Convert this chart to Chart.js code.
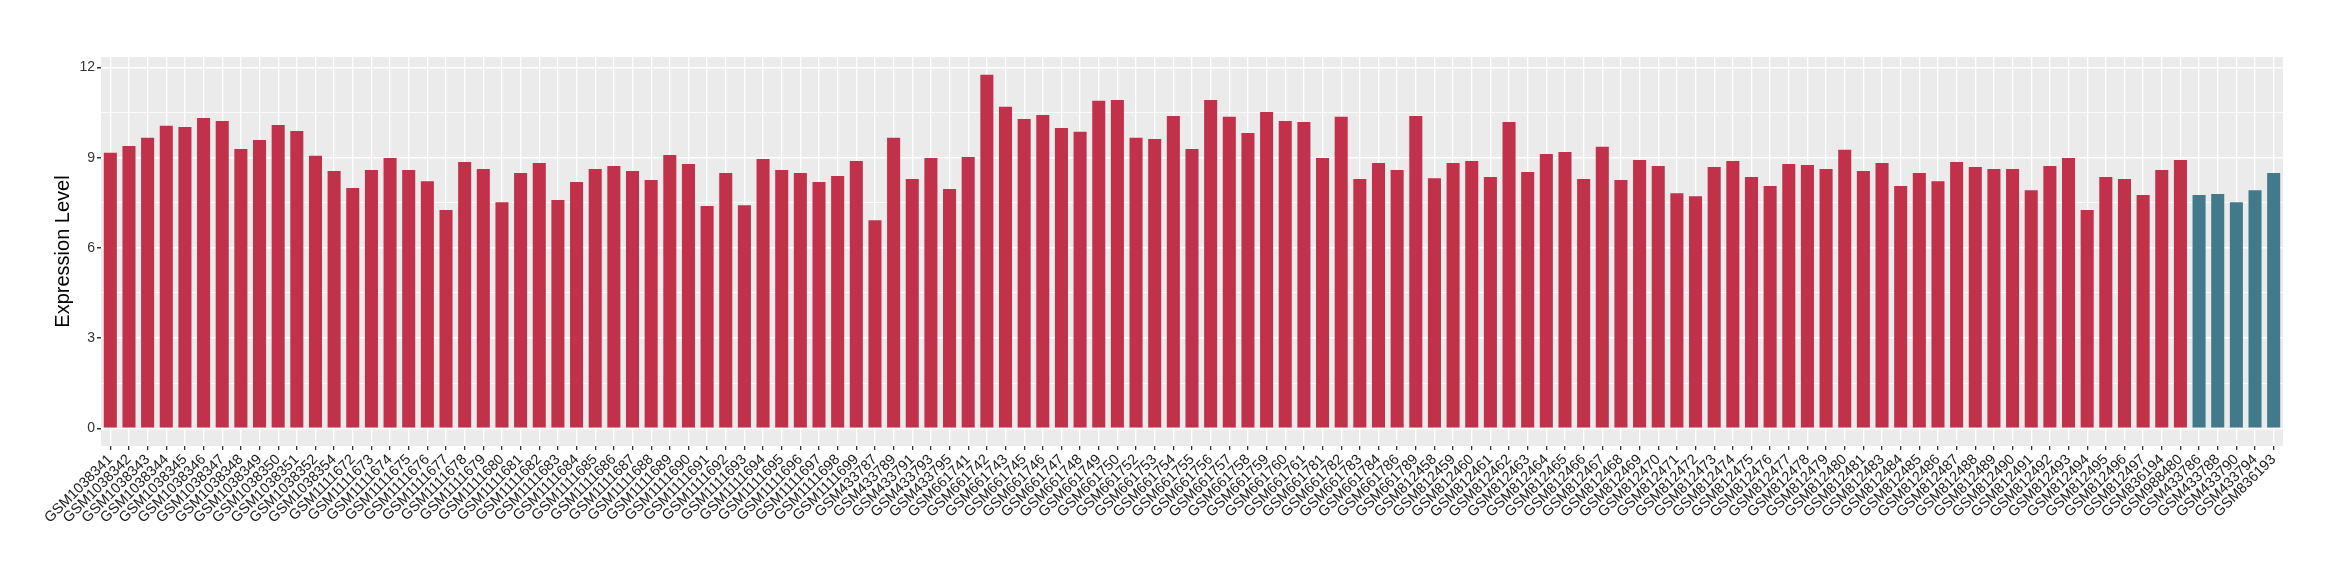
<!DOCTYPE html>
<html>
<head>
<meta charset="utf-8">
<script src="https://cdn.jsdelivr.net/npm/chart.js@4/dist/chart.umd.min.js"></script>
<style>
  html, body { margin: 0; padding: 0; background: #ffffff; }
  #wrap { width: 2340px; height: 580px; }
</style>
</head>
<body>
<div id="wrap"><canvas id="expr" width="2340" height="580"></canvas></div>
<script>
// sample ids, in plotting order
var samples = [
    'GSM1038341', 'GSM1038342', 'GSM1038343', 'GSM1038344', 'GSM1038345', 'GSM1038346', 'GSM1038347',
    'GSM1038348', 'GSM1038349', 'GSM1038350', 'GSM1038351', 'GSM1038352', 'GSM1038354',
    'GSM1111672', 'GSM1111673', 'GSM1111674', 'GSM1111675', 'GSM1111676', 'GSM1111677', 'GSM1111678',
    'GSM1111679', 'GSM1111680', 'GSM1111681', 'GSM1111682', 'GSM1111683', 'GSM1111684', 'GSM1111685',
    'GSM1111686', 'GSM1111687', 'GSM1111688', 'GSM1111689', 'GSM1111690', 'GSM1111691', 'GSM1111692',
    'GSM1111693', 'GSM1111694', 'GSM1111695', 'GSM1111696', 'GSM1111697', 'GSM1111698', 'GSM1111699',
    'GSM433787', 'GSM433789', 'GSM433791', 'GSM433793', 'GSM433795',
    'GSM661741', 'GSM661742', 'GSM661743', 'GSM661745', 'GSM661746', 'GSM661747', 'GSM661748',
    'GSM661749', 'GSM661750', 'GSM661752', 'GSM661753', 'GSM661754', 'GSM661755', 'GSM661756',
    'GSM661757', 'GSM661758', 'GSM661759', 'GSM661760', 'GSM661761', 'GSM661781', 'GSM661782',
    'GSM661783', 'GSM661784', 'GSM661786', 'GSM661789',
    'GSM812458', 'GSM812459', 'GSM812460', 'GSM812461', 'GSM812462', 'GSM812463', 'GSM812464',
    'GSM812465', 'GSM812466', 'GSM812467', 'GSM812468', 'GSM812469', 'GSM812470', 'GSM812471',
    'GSM812472', 'GSM812473', 'GSM812474', 'GSM812475', 'GSM812476', 'GSM812477', 'GSM812478',
    'GSM812479', 'GSM812480', 'GSM812481', 'GSM812483', 'GSM812484', 'GSM812485', 'GSM812486',
    'GSM812487', 'GSM812488', 'GSM812489', 'GSM812490', 'GSM812491', 'GSM812492', 'GSM812493',
    'GSM812494', 'GSM812495', 'GSM812496', 'GSM812497', 'GSM836194', 'GSM988480',
    'GSM433786', 'GSM433788', 'GSM433790', 'GSM433794', 'GSM836193'
];

var expression = [
    9.16, 9.39, 9.66, 10.06, 10.02, 10.32, 10.22, 9.29, 9.59, 10.09, 9.89, 9.06, 8.56,
    7.99, 8.59, 8.99, 8.59, 8.22, 7.26, 8.86, 8.62, 7.52, 8.49, 8.82, 7.59, 8.19, 8.62,
    8.72, 8.56, 8.26, 9.09, 8.79, 7.39, 8.49, 7.42, 8.96, 8.59, 8.49, 8.19, 8.39, 8.89,
    6.92, 9.66, 8.29, 8.99, 7.96,
    9.02, 11.76, 10.69, 10.29, 10.42, 9.99, 9.86, 10.89, 10.92, 9.66, 9.62, 10.39, 9.29,
    10.92, 10.36, 9.82, 10.52, 10.22, 10.19, 8.99, 10.36, 8.29, 8.82, 8.59, 10.39,
    8.32, 8.82, 8.89, 8.36, 10.19, 8.52, 9.12, 9.19, 8.29, 9.36, 8.26, 8.92, 8.72, 7.82,
    7.72, 8.69, 8.89, 8.36, 8.06, 8.79, 8.76, 8.62, 9.26, 8.56, 8.82, 8.06, 8.49, 8.22,
    8.86, 8.69, 8.62, 8.62, 7.92, 8.72, 8.99, 7.26, 8.36, 8.29, 7.76, 8.59, 8.92,
    7.76, 7.79, 7.52, 7.92, 8.49
];

// group of each sample: 'a' = red, 'b' = blue (last five)
var groups = [];
samples.forEach(function(s, i) { groups.push(i < 112 ? 'a' : 'b'); });

var groupColors = { a: '#C1314A', b: '#437A8B' };

var yMajorTicks = [0, 3, 6, 9, 12];
var yMinorTicks = [1.5, 4.5, 7.5, 10.5];
var yMin = -0.588;
var yMax = 12.348;

var panelBackground = {
    id: 'panelBackground',
    beforeDraw: function(chart) {
        var a = chart.chartArea;
        var ctx = chart.ctx;
        ctx.save();
        ctx.fillStyle = '#EBEBEB';
        ctx.fillRect(a.left, a.top, a.right - a.left, a.bottom - a.top);
        ctx.restore();
    }
};

function isMajor(v) {
    return yMajorTicks.indexOf(v) !== -1;
}

new Chart(document.getElementById('expr'), {
    type: 'bar',
    data: {
        labels: samples,
        datasets: [{
            data: expression,
            backgroundColor: groups.map(function(g) { return groupColors[g]; }),
            borderWidth: 0,
            barPercentage: 0.7,
            categoryPercentage: 1.0
        }]
    },
    options: {
        responsive: false,
        animation: false,
        events: [],
        layout: { padding: { left: 47, right: 57, top: 57, bottom: 0 } },
        plugins: {
            legend: { display: false },
            tooltip: { enabled: false }
        },
        scales: {
            x: {
                offset: true,
                border: { display: false },
                grid: {
                    offset: false,
                    color: '#FFFFFF',
                    lineWidth: 1.3,
                    drawTicks: true,
                    tickLength: 4,
                    tickColor: '#333333'
                },
                ticks: {
                    autoSkip: false,
                    minRotation: 45,
                    maxRotation: 45,
                    padding: 1,
                    color: '#1A1A1A',
                    font: { family: '"Liberation Sans", Arial, sans-serif', size: 14.5 }
                },
                afterFit: function(scale) { scale.height = 134; }
            },
            y: {
                min: yMin,
                max: yMax,
                border: { display: false },
                afterBuildTicks: function(scale) {
                    scale.ticks = yMajorTicks.concat(yMinorTicks)
                        .sort(function(a, b) { return a - b; })
                        .map(function(v) { return { value: v }; });
                },
                grid: {
                    color: '#FFFFFF',
                    lineWidth: function(ctx) { return isMajor(ctx.tick.value) ? 1.5 : 0.8; },
                    drawTicks: true,
                    tickLength: 4,
                    tickColor: function(ctx) { return isMajor(ctx.tick.value) ? '#333333' : 'rgba(0,0,0,0)'; }
                },
                ticks: {
                    padding: 2,
                    color: '#333333',
                    font: { family: '"Liberation Sans", Arial, sans-serif', size: 14 },
                    callback: function(value) { return isMajor(value) ? String(value) : ''; }
                },
                title: {
                    display: true,
                    text: 'Expression Level',
                    color: '#000000',
                    padding: { top: 4, bottom: 0 },
                    font: { family: '"Liberation Sans", Arial, sans-serif', size: 20 }
                },
                afterFit: function(scale) { scale.width = 54; }
            }
        }
    },
    plugins: [panelBackground]
});
</script>
</body>
</html>
